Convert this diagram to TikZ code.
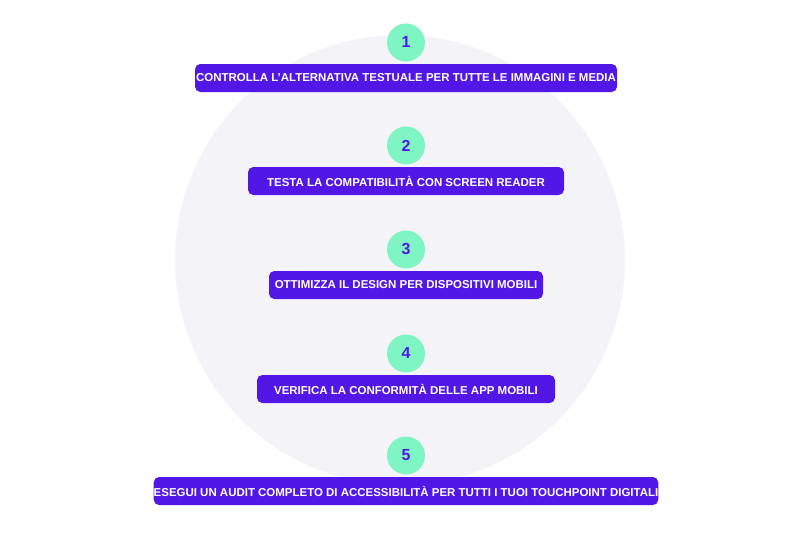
\documentclass[tikz,border=0pt]{standalone}
\usepackage{fontspec}
\setmainfont{Liberation Sans}
\usetikzlibrary{positioning}
\definecolor{stepviolet}{HTML}{5217E6}
\definecolor{stepmint}{HTML}{7FF5C4}
\definecolor{bgdisc}{HTML}{F4F3F8}
\tikzset{
  stepbar/.style={rectangle, fill=stepviolet, text=white, minimum height=21pt, inner xsep=0pt, rounded corners=4pt, font=\fontsize{8.6}{10}\selectfont\bfseries},
  stepnum/.style={circle, fill=stepmint, text=stepviolet, minimum size=28.5pt, inner sep=0pt, font=\fontsize{12}{14}\selectfont\bfseries},
}
\begin{document}
\begin{tikzpicture}[x=0.75pt, y=-0.75pt]
  \useasboundingbox (0,0) rectangle (800,533);
  % background disc
  \fill[bgdisc] (400,260) circle (168.75pt);

  % steps
  \node[stepbar, minimum width=316.5pt] (b1) at (406,78) {CONTROLLA L’ALTERNATIVA TESTUALE PER TUTTE LE IMMAGINI E MEDIA};
  \node[stepnum, above=1.5pt of b1] (n1) {1};

  \node[stepbar, minimum width=237pt] (b2) at (406,181) {TESTA LA COMPATIBILITÀ CON SCREEN READER};
  \node[stepnum, above=1.5pt of b2] (n2) {2};

  \node[stepbar, minimum width=205.5pt] (b3) at (406,285) {OTTIMIZZA IL DESIGN PER DISPOSITIVI MOBILI};
  \node[stepnum, above=1.5pt of b3] (n3) {3};

  \node[stepbar, minimum width=223.5pt] (b4) at (406,389) {VERIFICA LA CONFORMITÀ DELLE APP MOBILI};
  \node[stepnum, above=1.5pt of b4] (n4) {4};

  \node[stepbar, minimum width=375.75pt] (b5) at (406,491) {ESEGUI UN AUDIT COMPLETO DI ACCESSIBILITÀ PER TUTTI I TUOI TOUCHPOINT DIGITALI};
  \node[stepnum, above=1.5pt of b5] (n5) {5};
\end{tikzpicture}
\end{document}
